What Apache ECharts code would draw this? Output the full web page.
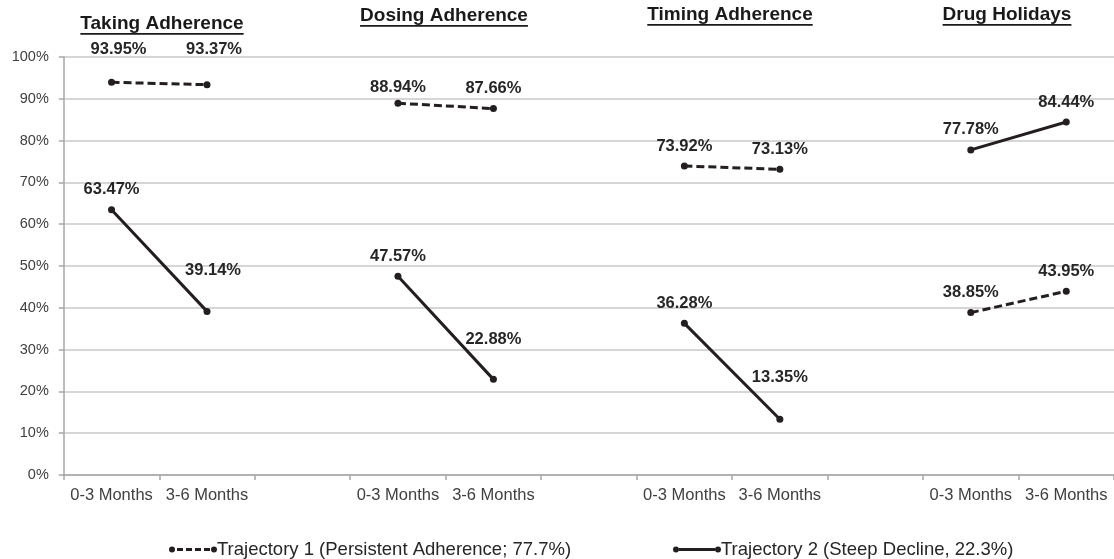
<!DOCTYPE html>
<html>
<head>
<meta charset="utf-8">
<script src="https://cdn.jsdelivr.net/npm/echarts@6/dist/echarts.min.js"></script>
<style>
html,body{margin:0;padding:0;background:#fff;}
#chart{width:1114px;height:559px;}
</style>
</head>
<body>
<div id="chart"></div>
<script>
// ---- data ----
const categories = ['0-3 Months','3-6 Months','','0-3 Months','3-6 Months','','0-3 Months','3-6 Months','','0-3 Months','3-6 Months'];
const groupTitles = ['Taking Adherence','Dosing Adherence','Timing Adherence','Drug Holidays'];
const seriesNames = ['Trajectory 1 (Persistent Adherence; 77.7%)','Trajectory 2 (Steep Decline, 22.3%)'];
const trajectory1 = [93.95, 93.37, null, 88.94, 87.66, null, 73.92, 73.13, null, 38.85, 43.95];
const trajectory2 = [63.47, 39.14, null, 47.57, 22.88, null, 36.28, 13.35, null, 77.78, 84.44];
const yTicks = [0,10,20,30,40,50,60,70,80,90,100];

// ---- label placement (style, not data) ----
const labelOffset1 = [[7,-13],[7,-15],null,[0,4],[0,0],null,[0,0],[0,0],null,[0,0],[0,0]];
const labelOffset2 = [[0,0],[6,-21],null,[0,0],[0,-20],null,[0,0],[0,-22],null,[0,0],[0,0]];

const lineColor = '#231f20';
const FONT = '"Liberation Sans", Arial, sans-serif';
const chart = echarts.init(document.getElementById('chart'), null, {renderer:'canvas'});

function buildData(vals, offs){
  return vals.map((v,i)=>{
    if(v===null) return null;
    return {value:v, label:{offset: offs[i] || [0,0]}};
  });
}

function legendIcon(dashed){
  const c1 = 'M0,4a3,3 0 1,0 6,0a3,3 0 1,0 -6,0Z';
  const c2 = 'M42,4a3,3 0 1,0 6,0a3,3 0 1,0 -6,0Z';
  let mid;
  if(dashed){
    mid = 'M8,2.6L14,2.6L14,5.4L8,5.4Z M17,2.6L23,2.6L23,5.4L17,5.4Z M26,2.6L32,2.6L32,5.4L26,5.4Z M35,2.6L41,2.6L41,5.4L35,5.4Z';
  } else {
    mid = 'M6,2.6L42,2.6L42,5.4L6,5.4Z';
  }
  return 'path://' + c1 + ' ' + mid + ' ' + c2;
}

const labelStyle = {
  show:true, position:'top', distance:8,
  fontFamily:FONT, fontWeight:'bold', fontSize:16.5, color:'#262626',
  formatter: p => p.value.toFixed(2) + '%'
};

// title positions (text layout)
const titlePos = [[162,25],[444,17],[730,16],[1007,16]];
const titleFont = 'bold 19px "Liberation Sans", Arial, sans-serif';
const mctx = document.createElement('canvas').getContext('2d');
mctx.font = titleFont;
const graphics = [];
groupTitles.forEach((t,i)=>{
  const w = mctx.measureText(t).width;
  const [cx,cy] = titlePos[i];
  graphics.push({type:'text', left:cx-w/2, top:cy-11, style:{text:t, font:titleFont, fill:'#1a1a1a'}});
  graphics.push({type:'rect', shape:{x:cx-w/2, y:cy+8, width:w, height:1.8}, style:{fill:'#1a1a1a'}});
});

const legendText = {fontFamily:FONT, fontSize:18.5, color:'#262626', padding:[0,0,0,-5]};
const option = {
  animation:false,
  backgroundColor:'#fff',
  grid:{left:63.8, width:1054.4, top:57, height:418, containLabel:false},
  legend:[
    {data:[{name:seriesNames[0], icon:legendIcon(true)}], left:164, top:535, itemWidth:48, itemHeight:8, itemGap:0, textStyle:legendText},
    {data:[{name:seriesNames[1], icon:legendIcon(false)}], left:668, top:535, itemWidth:48, itemHeight:8, itemGap:0, textStyle:legendText}
  ],
  xAxis:{
    type:'category', data:categories, boundaryGap:true,
    axisLine:{lineStyle:{color:'#a6a6a6', width:1.5}},
    axisTick:{show:true, length:5, interval:0, lineStyle:{color:'#a6a6a6', width:1.5}},
    axisLabel:{interval:0, margin:12, fontFamily:FONT, fontSize:16.5, color:'#404040'},
    splitLine:{show:false}
  },
  yAxis:{
    type:'value', min:yTicks[0], max:yTicks[yTicks.length-1], interval:yTicks[1]-yTicks[0],
    axisLine:{show:true, lineStyle:{color:'#a6a6a6', width:1.5}},
    axisTick:{show:true, length:5, lineStyle:{color:'#a6a6a6', width:1.5}},
    axisLabel:{margin:15, formatter:'{value}%', fontFamily:FONT, fontSize:14.5, color:'#404040'},
    splitLine:{show:true, lineStyle:{color:'#c8c8c8', width:1.5}}
  },
  series:[
    {name:seriesNames[0], type:'line', data:buildData(trajectory1,labelOffset1), connectNulls:false,
     symbol:'circle', symbolSize:7, color:lineColor,
     itemStyle:{color:lineColor}, lineStyle:{color:lineColor, width:3, type:[8,4]},
     label:labelStyle},
    {name:seriesNames[1], type:'line', data:buildData(trajectory2,labelOffset2), connectNulls:false,
     symbol:'circle', symbolSize:7, color:lineColor,
     itemStyle:{color:lineColor}, lineStyle:{color:lineColor, width:3, type:'solid'},
     label:labelStyle}
  ],
  graphic:graphics
};
chart.setOption(option);
</script>
</body>
</html>
